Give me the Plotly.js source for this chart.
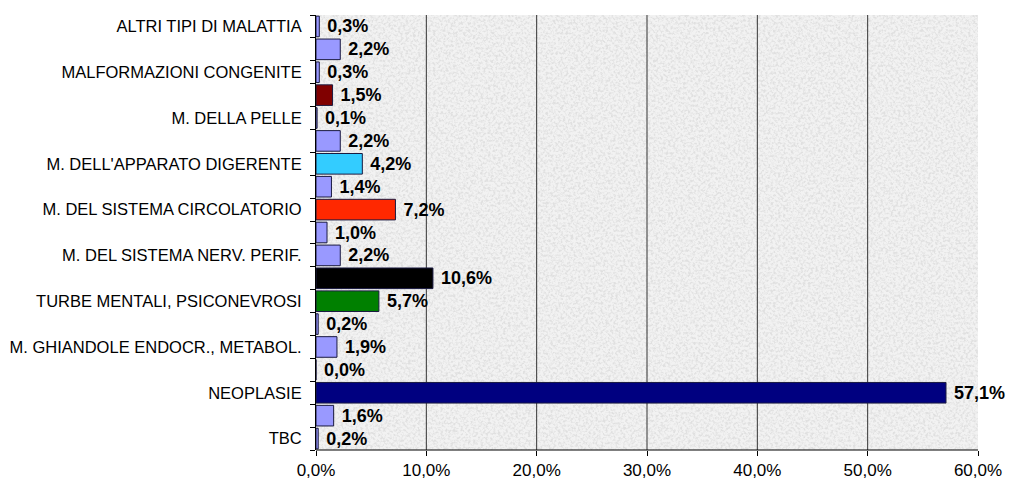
<!DOCTYPE html>
<html>
<head>
<meta charset="utf-8">
<script src="https://cdn.plot.ly/plotly-3.0.1.min.js"></script>
<style>html,body{margin:0;padding:0;background:#fff;}#chart{width:1010px;height:483px;}</style>
</head>
<body>
<div id="chart"></div>
<script>
// Categories, bottom to top (unlabelled rows have an empty tick label)
const categories = [
  "TBC", "", "NEOPLASIE", "", "M. GHIANDOLE ENDOCR., METABOL.", "",
  "TURBE MENTALI, PSICONEVROSI", "", "M. DEL SISTEMA NERV. PERIF.", "",
  "M. DEL SISTEMA CIRCOLATORIO", "", "M. DELL'APPARATO DIGERENTE", "",
  "M. DELLA PELLE", "", "MALFORMAZIONI CONGENITE", "", "ALTRI TIPI DI MALATTIA"
];
// Percentages
const values = [
  0.2, 1.6, 57.1, 0.0, 1.9, 0.2,
  5.7, 10.6, 2.2, 1.0,
  7.2, 1.4, 4.2, 2.2,
  0.1, 1.5, 0.3, 2.2, 0.3
];
const xTicks = [0, 10, 20, 30, 40, 50, 60];
const gridVals = [10, 20, 30, 40, 50];

const colors = [
  "#9999FF", "#9999FF", "#000080", "#9999FF", "#9999FF", "#9999FF",
  "#008000", "#000000", "#9999FF", "#9999FF",
  "#FF2800", "#9999FF", "#33CCFF", "#9999FF",
  "#9999FF", "#800000", "#9999FF", "#9999FF", "#9999FF"
];

const pos = categories.map((c, i) => i);

const svg = "<svg xmlns='http://www.w3.org/2000/svg' width='662' height='435'>" +
  "<filter id='n' x='0' y='0' width='100%' height='100%'>" +
  "<feTurbulence type='fractalNoise' baseFrequency='0.4' numOctaves='3' seed='7'/>" +
  "<feColorMatrix type='matrix' values='0 0 0 0 0.6  0 0 0 0 0.6  0 0 0 0 0.6  3.5 0 0 0 -1.5'/>" +
  "</filter>" +
  "<rect width='100%' height='100%' fill='#f2f2f2'/>" +
  "<rect width='100%' height='100%' filter='url(#n)' opacity='0.45'/>" +
  "</svg>";
const texture = "data:image/svg+xml;charset=utf-8," + encodeURIComponent(svg);

const trace = {
  type: "bar",
  orientation: "h",
  y: pos,
  x: values,
  marker: { color: colors, line: { color: "#1a1a40", width: 1 } },
  width: 0.9,
  text: values.map(v => " " + v.toFixed(1).replace(".", ",") + "%"),
  textposition: "outside",
  constraintext: "none",
  cliponaxis: false,
  textangle: 0,
  textfont: { family: "Liberation Sans, Arial, sans-serif", size: 18, color: "#000", weight: "bold" },
  hoverinfo: "none"
};

const layout = {
  width: 1010,
  height: 483,
  margin: { l: 316, r: 32, t: 15, b: 33, pad: 0 },
  paper_bgcolor: "#ffffff",
  plot_bgcolor: "#eeeeee",
  showlegend: false,
  font: { family: "Liberation Sans, Arial, sans-serif", size: 16, color: "#000" },
  xaxis: {
    range: [0, 60],
    tickvals: xTicks,
    ticktext: xTicks.map(v => v.toFixed(1).replace(".", ",") + "%"),
    ticks: "outside",
    ticklen: 5,
    tickcolor: "#000",
    showgrid: false,
    zeroline: false,
    showline: false,
    tickfont: { size: 17 },
    fixedrange: true
  },
  yaxis: {
    range: [-0.5, 18.5],
    tickvals: pos,
    ticktext: categories,
    ticks: "",
    showgrid: false,
    zeroline: false,
    showline: true,
    linecolor: "#000",
    linewidth: 1,
    ticklabelstandoff: 10,
    tickfont: { size: 16.5 },
    minor: { tick0: -0.5, dtick: 1, ticks: "outside", ticklen: 5, tickcolor: "#000", showgrid: false },
    fixedrange: true
  },
  images: [{
    source: texture, xref: "paper", yref: "paper", x: 0, y: 1,
    sizex: 1, sizey: 1, sizing: "stretch", xanchor: "left", yanchor: "top", layer: "below"
  }],
  shapes: gridVals.map(v => ({
    type: "line", xref: "x", yref: "paper", x0: v, x1: v, y0: 0, y1: 1,
    line: { color: "#333333", width: 1 }, layer: "below"
  })).concat([{
    type: "line", xref: "paper", yref: "paper", x0: 0, x1: 1, y0: 0, y1: 0,
    line: { color: "#000", width: 1 }, layer: "above"
  }])
};

Plotly.newPlot("chart", [trace], layout, { displayModeBar: false, staticPlot: true });
</script>
</body>
</html>
